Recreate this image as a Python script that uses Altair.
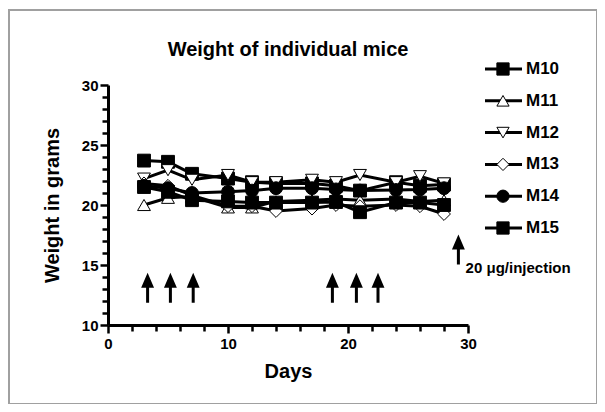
import altair as alt
import pandas as pd

# ---- data ----
days = [3, 5, 7, 10, 12, 14, 17, 19, 21, 24, 26, 28]
mice = ["M10", "M11", "M12", "M13", "M14", "M15"]
m10 = [23.7, 23.6, 22.6, 22.2, 21.9, 21.8, 21.8, 21.6, 21.2, 21.9, 21.6, 21.7]
m11 = [20.0, 20.6, 20.7, 19.8, 19.8, 20.3, 20.4, 20.5, 20.4, 20.5, 20.3, 20.4]
m12 = [22.2, 22.9, 22.1, 22.5, 21.9, 21.9, 22.1, 21.9, 22.5, 21.9, 22.4, 21.8]
m13 = [21.8, 21.6, 20.8, 19.9, 19.9, 19.5, 19.7, 20.0, 19.9, 20.0, 19.9, 19.25]
m14 = [21.6, 21.4, 21.0, 21.1, 21.2, 21.4, 21.4, 21.3, 21.2, 21.25, 21.3, 21.4]
m15 = [21.5, 21.1, 20.4, 20.3, 20.2, 20.2, 20.2, 20.25, 19.4, 20.2, 20.2, 20.0]
series = [m10, m11, m12, m13, m14, m15]

shapes = ["square", "triangle-up", "triangle-down", "diamond", "circle", "square"]
fills = ["black", "white", "white", "white", "black", "black"]

arrow_days = [3.3, 5.2, 7.1, 18.7, 20.7, 22.5, 29.2]
arrow_weights = [13.1, 13.1, 13.1, 13.1, 13.1, 13.1, 16.3]
note_day = [29.8]
note_weight = [14.75]
note_text = ["20 \u03bcg/injection"]
title_text = ["Weight of individual mice"]

x_major = [0, 10, 20, 30]
y_major = [10, 15, 20, 25, 30]
x_ticks = list(range(0, 31, 2))
y_ticks = [10 + 0.5 * i for i in range(41)]

FONT = "Liberation Sans"

rows = []
for name, vals in zip(mice, series):
    for d, v in zip(days, vals):
        rows.append({"mouse": name, "day": d, "weight": v})
df = pd.DataFrame(rows)
arrows_df = pd.DataFrame({"day": arrow_days, "weight": arrow_weights})
note_df = pd.DataFrame({"day": note_day, "weight": note_weight, "t": note_text})
legend_df = pd.DataFrame({"mouse": mice})
title_df = pd.DataFrame({"t": title_text})

x_axis = alt.Axis(
    values=x_ticks, format="d",
    labelExpr="datum.value % 10 === 0 ? datum.label : ''",
    tickSize={"condition": {"test": "datum.value % 10 === 0", "value": 8}, "value": 6},
    title="Days", titlePadding=10, labelPadding=3,
    labelFlush=False, labelOverlap=False,
)
y_axis = alt.Axis(
    values=y_ticks, format="d",
    labelExpr="datum.value % 5 === 0 ? datum.label : ''",
    tickSize={"condition": {"test": "datum.value % 5 === 0", "value": 8}, "value": 6},
    title="Weight in grams", titlePadding=19, labelPadding=2,
    labelFlush=False, labelOverlap=False,
)
xs = alt.Scale(domain=[0, 30], nice=False, zero=False)
ys = alt.Scale(domain=[10, 30], nice=False, zero=False)

def X():
    return alt.X("day:Q", scale=xs, axis=x_axis)

def Y():
    return alt.Y("weight:Q", scale=ys, axis=y_axis)

shape_enc = alt.Shape("mouse:N", scale=alt.Scale(domain=mice, range=shapes), legend=None)
fill_enc = alt.Fill("mouse:N", scale=alt.Scale(domain=mice, range=fills), legend=None)

lines = alt.Chart(df).mark_line(color="black", strokeWidth=3).encode(
    x=X(), y=Y(), detail="mouse:N"
)
points = alt.Chart(df).mark_point(
    filled=True, size=165, stroke="black", strokeWidth=1, opacity=1
).encode(x=X(), y=Y(), shape=shape_enc, fill=fill_enc)

arrow_path = "M0,-1L0.43,0L0.1,0L0.1,1L-0.1,1L-0.1,0L-0.43,0Z"
arrows = alt.Chart(arrows_df).mark_point(
    shape=arrow_path, size=900, filled=True, color="black", opacity=1
).encode(x=X(), y=Y())

note = alt.Chart(note_df).mark_text(
    align="left", baseline="middle", font=FONT, fontWeight="bold", fontSize=15, color="black"
).encode(x=X(), y=Y(), text="t:N")

main = alt.layer(lines, points, arrows, note)

leg_y = alt.Y("mouse:N", scale=alt.Scale(type="point", domain=mice, range=[-16, 143], padding=0), axis=None)
leg_rule = alt.Chart(legend_df).mark_rule(color="black", strokeWidth=3).encode(
    x=alt.value(377), x2=alt.value(414), y=leg_y
)
leg_pt = alt.Chart(legend_df).mark_point(
    filled=True, size=150, stroke="black", strokeWidth=1, opacity=1
).encode(x=alt.value(395), y=leg_y, shape=shape_enc, fill=fill_enc)
leg_text = alt.Chart(legend_df).mark_text(
    align="left", baseline="middle", font=FONT, fontWeight="bold", fontSize=17, color="black"
).encode(x=alt.value(418), y=leg_y, text="mouse:N")
legend = alt.layer(leg_rule, leg_pt, leg_text)

border = alt.Chart(pd.DataFrame({"k": [0]})).mark_rect(
    fillOpacity=0, stroke="#a0a0a0", strokeWidth=2
).encode(x=alt.value(-99), x2=alt.value(489), y=alt.value(-75), y2=alt.value(319))

title = alt.Chart(title_df).mark_text(
    align="center", baseline="middle", font=FONT, fontWeight="bold", fontSize=20, color="black"
).encode(x=alt.value(180), y=alt.value(-35), text="t:N")

chart = alt.layer(border, title, main, legend).resolve_scale(y="independent").properties(
    width=360, height=240,
    autosize=alt.AutoSizeParams(type="none"),
    padding={"left": 100, "top": 77, "right": 129, "bottom": 79},
).configure_view(stroke=None).configure_axis(
    domainColor="black", domainWidth=3, tickColor="black", tickWidth=2.5,
    labelFont=FONT, labelFontWeight="bold", labelFontSize=15, labelColor="black",
    titleFont=FONT, titleFontWeight="bold", titleFontSize=20, titleColor="black",
    grid=False,
)

chart.save("out.html", embed_options={"renderer": "svg", "actions": False})
